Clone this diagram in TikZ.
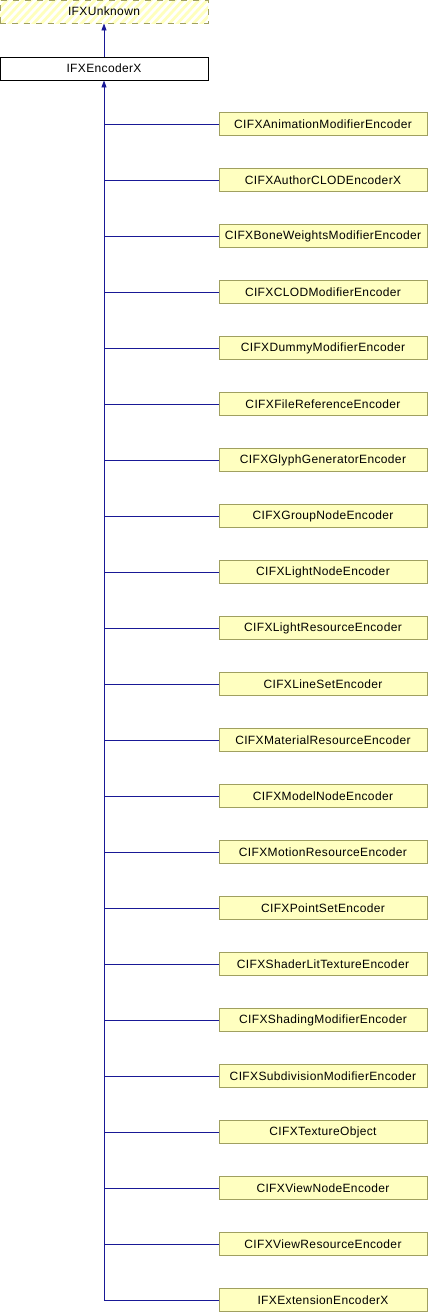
\documentclass[tikz,border=0pt]{standalone}
\usepackage{fontspec}
\setmainfont{Liberation Sans}[LetterSpace=3]
\usetikzlibrary{arrows.meta}
\definecolor{boxfill}{RGB}{255,255,192}
\definecolor{boxdraw}{RGB}{160,160,96}
\definecolor{edgecol}{RGB}{25,25,150}
\definecolor{hatch}{RGB}{255,255,190}
\tikzset{
  lbl/.style={font=\fontsize{12}{14}\selectfont},
  cls/.style={draw=boxdraw, fill=boxfill, minimum width=208pt, minimum height=23pt, inner sep=0pt, lbl, line width=0.9pt},
  root/.style={draw=black, fill=white, minimum width=208pt, minimum height=23pt, inner sep=0pt, lbl, line width=0.9pt},
  ext/.style={draw=boxdraw, dash pattern=on 6pt off 6pt, minimum width=208pt, minimum height=23pt, inner sep=0pt, lbl, line width=0.9pt},
  inh/.style={draw=edgecol, line width=0.9pt},
  tip/.style={-{Triangle[length=7pt,width=5pt]}}
}
\begin{document}
\begin{tikzpicture}[x=1pt,y=-1pt]
\useasboundingbox (0,0) rectangle (428,1312);
% hatched background of external class
\begin{scope}
\clip (0,0) rectangle (208,23);
\fill[white] (0,0) rectangle (208,23);
\foreach \k in {-4,...,30}{
  \draw[hatch, line width=2.8pt] (8*\k,25) -- (8*\k+25,-2);
}
\end{scope}
\node[ext] (u) at (104,11.5) {IFXUnknown};
\node[root] (e) at (104,68.5) {IFXEncoderX};
\draw[inh,tip] (e.north) -- (u.south);
\foreach \i/\name in {0/CIFXAnimationModifierEncoder,1/CIFXAuthorCLODEncoderX,2/CIFXBoneWeightsModifierEncoder,3/CIFXCLODModifierEncoder,4/CIFXDummyModifierEncoder,5/CIFXFileReferenceEncoder,6/CIFXGlyphGeneratorEncoder,7/CIFXGroupNodeEncoder,8/CIFXLightNodeEncoder,9/CIFXLightResourceEncoder,10/CIFXLineSetEncoder,11/CIFXMaterialResourceEncoder,12/CIFXModelNodeEncoder,13/CIFXMotionResourceEncoder,14/CIFXPointSetEncoder,15/CIFXShaderLitTextureEncoder,16/CIFXShadingModifierEncoder,17/CIFXSubdivisionModifierEncoder,18/CIFXTextureObject,19/CIFXViewNodeEncoder,20/CIFXViewResourceEncoder,21/IFXExtensionEncoderX}{
  \node[cls] (c\i) at (323,124+56*\i) {\name};
  \draw[inh] (c\i.west) -- (104,124+56*\i);
}
\coordinate (bend) at (104,1300);
\draw[inh,tip] (bend) -- (e.south);
\end{tikzpicture}
\end{document}
